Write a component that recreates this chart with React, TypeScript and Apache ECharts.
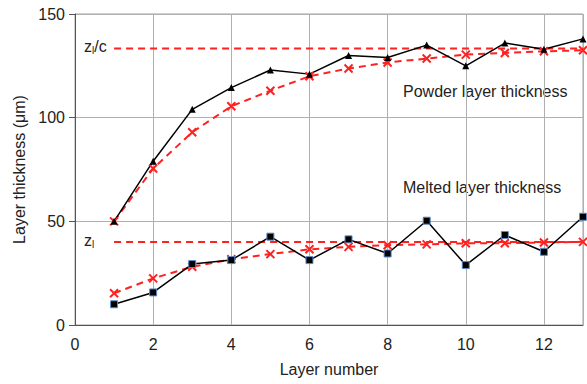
import React, { useEffect, useRef } from "react";
import * as echarts from "echarts";

const layers = [1, 2, 3, 4, 5, 6, 7, 8, 9, 10, 11, 12, 13];
const powderMeasured = [50, 79, 104, 114.5, 123, 121, 130, 129, 135, 125, 136, 133, 138];
const powderModel = [50, 75.5, 93, 105.5, 113, 120, 123.7, 126.6, 128.5, 130.4, 131.2, 132, 132.5];
const meltedMeasured = [10, 15.7, 29.4, 31.3, 42.6, 31.3, 41.3, 34.5, 50.3, 28.9, 43.4, 35.3, 52.2];
const meltedModel = [15.3, 22.5, 28.1, 31.7, 34.2, 36.5, 37.7, 38.5, 38.9, 39.4, 39.4, 39.8, 40.1];
const zlOverC = 133.3;
const zl = 40;
const xTicks = { min: 0, max: 13, interval: 2 };
const yTicks = { min: 0, max: 150, interval: 50 };

const RED = "#ff2020";
const FONT = "Liberation Sans, Arial, sans-serif";
const crossSymbol = "path://M0,0L10,10M10,0L0,10";

export default function App() {
  const ref = useRef<HTMLDivElement>(null);
  useEffect(() => {
    if (!ref.current) return;
    const chart = echarts.init(ref.current, null, { renderer: "svg" });
    const pair = (ys: number[]) => layers.map((x, i) => [x, ys[i]]);
    const flat = (v: number) => [[layers[0], v], [layers[layers.length - 1], v]];
    chart.setOption({
      animation: false,
      textStyle: { fontFamily: FONT },
      grid: {
        left: 75, right: 4, top: 14, bottom: 59,
        show: true, borderColor: "#a0a0a0", borderWidth: 1,
      },
      xAxis: {
        type: "value", min: xTicks.min, max: xTicks.max, interval: xTicks.interval,
        name: "Layer number", nameLocation: "middle", nameGap: 36,
        nameTextStyle: { fontSize: 16, color: "#222", fontFamily: FONT },
        axisLine: { show: true, lineStyle: { color: "#555", width: 1 } },
        axisTick: { show: false },
        axisLabel: { fontSize: 16, color: "#222", margin: 11, fontFamily: FONT, showMaxLabel: false },
        splitLine: { show: true, lineStyle: { color: "#b0b0b0", width: 1 } },
      },
      yAxis: {
        type: "value", min: yTicks.min, max: yTicks.max, interval: yTicks.interval,
        name: "Layer thickness (\u03bcm)", nameLocation: "middle", nameGap: 45, nameRotate: 90,
        nameTextStyle: { fontSize: 16, color: "#222", fontFamily: FONT },
        axisLine: { show: true, lineStyle: { color: "#555", width: 1 } },
        axisTick: { show: true, length: 6, inside: false, lineStyle: { color: "#555" } },
        axisLabel: { fontSize: 16, color: "#222", margin: 10, fontFamily: FONT },
        splitLine: { show: true, lineStyle: { color: "#b0b0b0", width: 1 } },
      },
      series: [
        {
          type: "line", data: flat(zlOverC), symbol: "none",
          lineStyle: { color: RED, width: 2, type: [7, 5] },
        },
        {
          type: "line", data: flat(zl), symbol: "none",
          lineStyle: { color: RED, width: 2, type: [7, 5] },
        },
        {
          type: "line", data: pair(powderModel), symbol: crossSymbol, symbolSize: 8,
          itemStyle: { color: "none", borderColor: RED, borderWidth: 2 },
          lineStyle: { color: RED, width: 2, type: [7, 5] },
        },
        {
          type: "line", data: pair(meltedModel), symbol: crossSymbol, symbolSize: 8,
          itemStyle: { color: "none", borderColor: RED, borderWidth: 2 },
          lineStyle: { color: RED, width: 2, type: [7, 5] },
        },
        {
          type: "line", data: pair(powderMeasured), symbol: "triangle", symbolSize: 7,
          itemStyle: { color: "#000", borderColor: "#000", borderWidth: 0 },
          lineStyle: { color: "#000", width: 1.5 },
        },
        {
          type: "line", data: pair(meltedMeasured), symbol: "rect", symbolSize: 7,
          itemStyle: { color: "#000", borderColor: "#5a8ccc", borderWidth: 1 },
          lineStyle: { color: "#000", width: 1.5 },
        },
      ],
      graphic: [
        {
          type: "text", left: 84, top: 38,
          style: {
            text: "z{s|l}/c", fontSize: 16, fill: "#222", fontFamily: FONT,
            rich: { s: { fontSize: 10, verticalAlign: "bottom", padding: [8, 0, 0, 0], fill: "#222", fontFamily: FONT } },
          },
        },
        {
          type: "text", left: 84, top: 232,
          style: {
            text: "z{s|l}", fontSize: 16, fill: "#222", fontFamily: FONT,
            rich: { s: { fontSize: 10, verticalAlign: "bottom", padding: [8, 0, 0, 0], fill: "#222", fontFamily: FONT } },
          },
        },
        {
          type: "text", left: 403, top: 83,
          style: { text: "Powder layer thickness", fontSize: 16, fill: "#222", fontFamily: FONT },
        },
        {
          type: "text", left: 403, top: 179,
          style: { text: "Melted layer thickness", fontSize: 16, fill: "#222", fontFamily: FONT },
        },
      ],
    });
    return () => chart.dispose();
  }, []);
  return (
    <div
      ref={ref}
      style={{ position: "fixed", left: 0, top: 0, width: 587, height: 384, background: "#fff" }}
    />
  );
}
